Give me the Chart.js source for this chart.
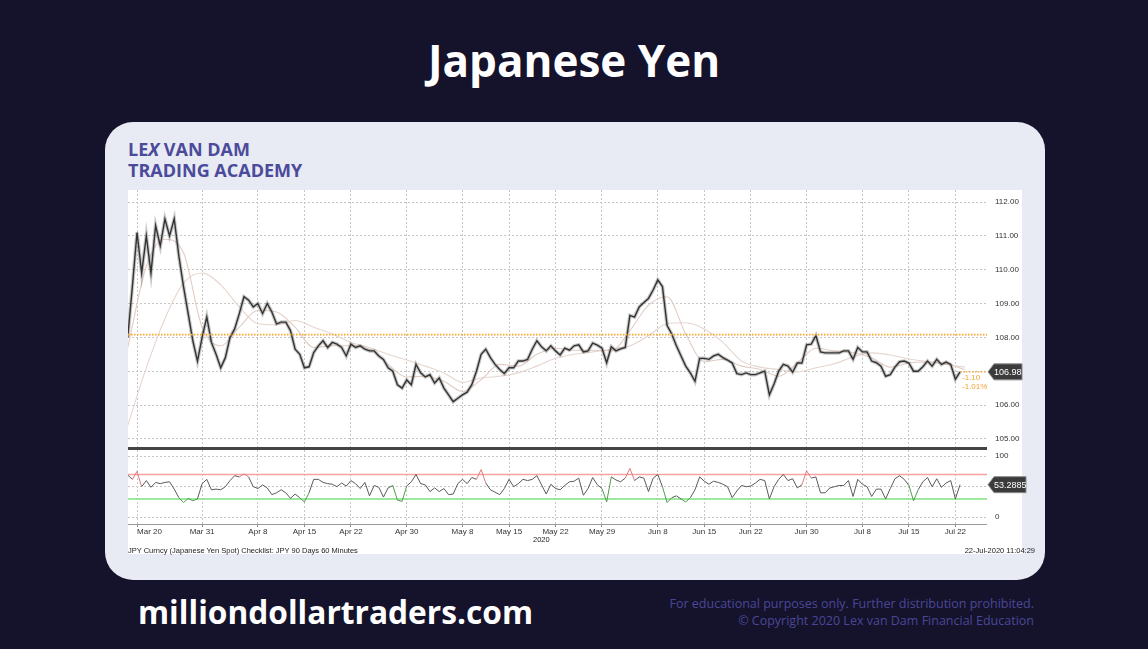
<!DOCTYPE html>
<html>
<head>
<meta charset="utf-8">
<script src="https://cdn.jsdelivr.net/npm/chart.js@4.4.1/dist/chart.umd.min.js"></script>
<style>
  html, body { margin: 0; padding: 0; }
  body { width: 1148px; height: 649px; background: #15122c; position: relative; overflow: hidden; font-family: "Open Sans", sans-serif; }
  #title { position: absolute; left: 0; top: 30px; width: 1148px; text-align: center; color: #fff; font-weight: 700; font-size: 44px; }
  #card { position: absolute; left: 105px; top: 122px; width: 940px; height: 458px; background: #e8ebf3; border-radius: 28px; }
  .logo { position: absolute; left: 128px; color: #4b4a9b; font-weight: 700; font-size: 18px; line-height: 20px; }
  #white { position: absolute; left: 128px; top: 190px; width: 894px; height: 364px; background: #fff; }
  .wrap { position: absolute; left: 128px; width: 910px; }
  #w1 { top: 190px; height: 258px; }
  #w2 { top: 450px; height: 100px; }
  #sep { position: absolute; left: 128px; top: 447px; width: 859px; height: 3px; background: #444; }
  .small { position: absolute; font-family: "Liberation Sans", Arial, sans-serif; font-size: 7.5px; color: #222; white-space: nowrap; }
  #site { position: absolute; left: 138px; top: 590px; color: #fff; font-weight: 700; font-size: 31.7px; }
  #copy { position: absolute; right: 114px; top: 595px; color: #4a4896; font-size: 12.5px; line-height: 17px; text-align: right; }
</style>
</head>
<body>
<div id="title">Japanese Yen</div>
<div id="card"></div>
<div class="logo" style="top:139px">LE<i>X</i> VAN DAM</div>
<div class="logo" style="top:160px">TRADING ACADEMY</div>
<div id="white"></div>
<div class="wrap" id="w1"><canvas id="price"></canvas></div>
<div class="wrap" id="w2"><canvas id="rsi"></canvas></div>
<div id="sep"></div>
<div class="small" style="left:533px;top:535px;">2020</div>
<div class="small" style="left:128px;top:546px;">JPY Curncy (Japanese Yen Spot) Checklist: JPY 90 Days 60 Minutes</div>
<div class="small" style="right:113px;top:546px;">22-Jul-2020 11:04:29</div>
<div id="site">milliondollartraders.com</div>
<div id="copy">For educational purposes only. Further distribution prohibited.<br>© Copyright 2020 Lex van Dam Financial Education</div>

<script>
// x values are trading days, Mar 20 = 0
const priceStart = -1;
const priceStep = 0.5;
const closes = [
  108.0,109.5,111.1,109.9,111.0,109.9,111.3,110.7,111.5,111.0,
  111.5,110.4,109.5,108.7,107.9,107.3,108.0,108.6,107.85,107.5,
  107.1,107.4,108.0,108.25,108.7,109.2,109.1,108.9,109.0,108.7,
  109.0,108.75,108.4,108.45,108.45,108.2,107.65,107.5,107.1,107.13,
  107.55,107.75,107.9,107.7,107.85,107.8,107.7,107.45,107.8,107.7,
  107.75,107.65,107.6,107.6,107.45,107.35,107.1,107.0,106.6,106.5,
  106.74,106.6,107.2,106.95,106.83,106.9,106.65,106.8,106.5,106.3,
  106.1,106.2,106.3,106.38,106.6,107.0,107.5,107.65,107.4,107.2,
  107.05,106.93,107.1,107.1,107.3,107.3,107.35,107.65,107.9,107.72,
  107.6,107.75,107.6,107.48,107.68,107.62,107.75,107.78,107.57,107.6,
  107.83,107.77,107.68,107.25,107.72,107.6,107.66,107.7,108.65,108.6,
  108.9,109.03,109.15,109.4,109.7,109.5,108.35,108.1,107.75,107.45,
  107.15,106.95,106.7,107.38,107.38,107.35,107.45,107.5,107.4,107.33,
  107.24,106.93,106.9,106.95,106.9,106.9,106.95,107.0,106.3,106.62,
  107.0,107.2,107.15,106.97,107.24,107.24,107.78,107.8,108.05,107.57,
  107.54,107.54,107.54,107.54,107.6,107.6,107.35,107.7,107.57,107.57,
  107.3,107.25,107.15,106.85,106.9,107.12,107.28,107.3,107.24,107.0,
  107.0,107.13,107.3,107.15,107.35,107.2,107.27,107.2,106.76,106.98
];
const rsiValues = [
  69,62,75,50,60,49,57,55,57,58,
  46,32,24,31,27,30,55,62,45,46,
  45,50,60,68,66,71,66,50,47,53,
  48,37,40,45,40,31,38,32,25,40,
  62,62,57,55,54,50,56,51,60,55,
  47,57,35,52,49,33,48,52,28,26,
  51,58,70,55,53,42,48,42,47,37,
  38,55,62,55,65,62,78,56,45,41,
  37,47,62,50,55,62,60,62,68,53,
  38,54,47,45,52,58,59,64,36,47,
  65,53,47,25,66,61,58,64,80,60,
  66,64,42,64,70,50,24,32,35,30,
  25,32,45,66,59,54,59,57,54,50,
  32,43,52,50,51,56,62,60,30,50,
  62,70,60,63,48,53,76,64,66,40,
  40,48,50,52,52,60,34,62,54,50,
  34,46,46,30,47,63,68,62,52,27,
  45,58,65,50,63,49,56,60,30,53.29
];
const maStep = 2;
const maFast = [
  107.7,110.1,110.9,110.5,108.3,107.75,108.3,108.8,108.75,108.3,
  107.7,107.75,107.75,107.65,107.2,106.83,106.85,106.7,106.4,106.75,
  107.2,107.15,107.5,107.68,107.62,107.62,107.6,108.2,108.95,109.2,
  108.1,107.28,107.35,107.15,107.05,106.85,107.25,107.68,107.6,107.55,
  107.4,107.12,107.24,107.27,107.22,107.05
];
const maSlow = [
  105.4,107.1,108.55,109.6,109.9,109.55,108.9,108.4,108.37,108.5,
  108.3,108.1,107.85,107.7,107.5,107.33,107.15,106.95,106.67,106.8,
  106.85,106.95,107.15,107.38,107.5,107.57,107.65,107.75,108.05,108.4,
  108.43,108.25,107.85,107.3,107.12,107.05,106.98,107.1,107.22,107.42,
  107.54,107.48,107.36,107.28,107.2,107.12
];
const tickDays = [0,7,13,18,23,29,35,40,45,50,56,61,66,72,78,83,88];
const tickLabels = ['Mar 20','Mar 31','Apr 8','Apr 15','Apr 22','Apr 30','May 8','May 15','May 22','May 29','Jun 8','Jun 15','Jun 22','Jun 30','Jul 8','Jul 15','Jul 22'];
const priceTicks = [105,106,107,108,109,110,111,112];
const rsiTicks = [0,50,100];
const prevClose = 108.08;
const lastPrice = 106.98;
const changeText = ['-1.10', '-1.01%'];
const lastRsi = 53.2885;
const rsiUpper = 70, rsiLower = 30;

const xMin = -0.97, xMax = 91.4;
const lastDay = priceStart + (closes.length - 1) * priceStep;
const series = (arr, start, step) => arr.map((v, i) => ({ x: start + i * step, y: v }));
const flat = (v, a, b) => [{ x: a, y: v }, { x: b, y: v }];

const AXIS_FONT = { family: '"Liberation Sans", Arial, sans-serif', size: 8 };
const GRID = '#c6c6c6';
const AXIS_W = 51;   // right axis width, the tags live inside it

const lastTag = {
  id: 'lastTag',
  afterDraw(chart, args, o) {
    if (o.value == null) return;
    const { ctx, chartArea } = chart;
    const y = chart.scales.y.getPixelForValue(o.value);
    const x = chartArea.right + 1;
    ctx.save();
    ctx.beginPath();
    ctx.moveTo(x, y);
    ctx.lineTo(x + 6, y - 8);
    ctx.lineTo(x + o.w, y - 8);
    ctx.lineTo(x + o.w, y + 8);
    ctx.lineTo(x + 6, y + 8);
    ctx.closePath();
    ctx.fillStyle = '#3b3b3b';
    ctx.fill();
    ctx.strokeStyle = '#8c8c8c';
    ctx.lineWidth = 1;
    ctx.stroke();
    ctx.fillStyle = '#fff';
    ctx.font = '9px "Liberation Sans", Arial, sans-serif';
    ctx.textBaseline = 'middle';
    ctx.textAlign = 'left';
    ctx.fillText(o.text, x + 6, y + 0.5);
    if (o.notes) {
      const xs = chart.scales.x.getPixelForValue(o.noteAt);
      ctx.fillStyle = '#f3a233';
      ctx.font = '8px "Liberation Sans", Arial, sans-serif';
      o.notes.forEach((t, i) => ctx.fillText(t, xs + 2, y + 6 + i * 9));
    }
    ctx.restore();
  }
};

const axisLine = {
  id: 'axisLine',
  afterDatasetsDraw(chart) {
    const { ctx, chartArea } = chart;
    ctx.save();
    ctx.strokeStyle = '#9a9a9a';
    ctx.lineWidth = 1;
    ctx.beginPath();
    ctx.moveTo(chartArea.left, chartArea.bottom + 0.5);
    ctx.lineTo(chartArea.right, chartArea.bottom + 0.5);
    ctx.stroke();
    ctx.restore();
  }
};

function fitRight(s) {
  s.width = AXIS_W;
  s.paddingTop = 0;
  s.paddingBottom = 0;
}

// price panel
new Chart(document.getElementById('price'), {
  type: 'line',
  data: {
    datasets: [
      { data: flat(prevClose, xMin, xMax), borderColor: '#f5a52c', borderWidth: 1.6, borderDash: [1.5, 1.5] },
      { data: flat(lastPrice, lastDay, xMax), borderColor: '#f5a52c', borderWidth: 1.2, borderDash: [1.5, 1.5] },
      { data: series(closes, priceStart, priceStep), borderColor: '#333333', borderWidth: 1.4 },
      { data: series(closes, priceStart, priceStep), borderColor: 'rgba(110,110,110,0.38)', borderWidth: 3.6 },
      { data: series(maFast, priceStart, maStep), borderColor: '#e2cdc4', borderWidth: 1.1, cubicInterpolationMode: 'monotone' },
      { data: series(maSlow, priceStart, maStep), borderColor: '#e6d6cf', borderWidth: 1.1, cubicInterpolationMode: 'monotone' }
    ]
  },
  options: {
    responsive: true,
    maintainAspectRatio: false,
    animation: false,
    layout: { padding: 0, autoPadding: false },
    elements: { point: { radius: 0 }, line: { tension: 0 } },
    plugins: {
      legend: { display: false },
      tooltip: { enabled: false },
      lastTag: { value: lastPrice, text: lastPrice.toFixed(2), w: 34, notes: changeText, noteAt: lastDay }
    },
    scales: {
      x: {
        type: 'linear', min: xMin, max: xMax,
        afterBuildTicks: s => { s.ticks = tickDays.map(v => ({ value: v })); },
        afterFit: s => { s.height = 0; },
        ticks: { display: false },
        grid: { color: GRID, drawTicks: false },
        border: { display: false, dash: [2, 2] }
      },
      y: {
        position: 'right', min: 104.73, max: 112.355,
        afterBuildTicks: s => { s.ticks = priceTicks.map(v => ({ value: v })); },
        afterFit: fitRight,
        ticks: { font: AXIS_FONT, color: '#333', padding: 8, callback: v => v.toFixed(2) },
        grid: { color: GRID, drawTicks: false },
        border: { display: false, dash: [2, 2] }
      }
    }
  },
  plugins: [lastTag]
});

// RSI panel with the date axis
new Chart(document.getElementById('rsi'), {
  type: 'line',
  data: {
    datasets: [
      {
        data: series(rsiValues, priceStart, priceStep), borderColor: '#5a5a5a', borderWidth: 1,
        segment: {
          borderColor: c => Math.max(c.p0.parsed.y, c.p1.parsed.y) > rsiUpper ? '#e07a7a'
            : Math.min(c.p0.parsed.y, c.p1.parsed.y) < rsiLower ? '#4f9c4f' : undefined
        }
      },
      { data: flat(rsiUpper, xMin, xMax), borderColor: '#f6a2a2', borderWidth: 1.5 },
      { data: flat(rsiLower, xMin, xMax), borderColor: '#7fe07f', borderWidth: 1.5 }
    ]
  },
  options: {
    responsive: true,
    maintainAspectRatio: false,
    animation: false,
    layout: { padding: 0, autoPadding: false },
    elements: { point: { radius: 0 }, line: { tension: 0 } },
    plugins: {
      legend: { display: false },
      tooltip: { enabled: false },
      lastTag: { value: lastRsi, text: lastRsi.toFixed(4), w: 38 }
    },
    scales: {
      x: {
        type: 'linear', min: xMin, max: xMax,
        afterBuildTicks: s => { s.ticks = tickDays.map(v => ({ value: v })).concat([{ value: xMax }]); },
        afterFit: s => { s.height = 26; },
        ticks: {
          font: AXIS_FONT, color: '#333', padding: 0, maxRotation: 0, autoSkip: false, align: 'inner',
          callback: v => { const i = tickDays.indexOf(v); return i >= 0 ? tickLabels[i] : ''; }
        },
        grid: {
          color: c => (c.tick && c.tick.value === xMax) ? 'rgba(0,0,0,0)' : GRID,
          tickLength: 3, tickColor: c => (c.tick && c.tick.value === xMax) ? 'rgba(0,0,0,0)' : '#8a8a8a',
          tickBorderDash: []
        },
        border: { display: false, dash: [2, 2] }
      },
      y: {
        position: 'right', min: -11, max: 110,
        afterBuildTicks: s => { s.ticks = rsiTicks.map(v => ({ value: v })); },
        afterFit: fitRight,
        ticks: { font: AXIS_FONT, color: '#333', padding: 8 },
        grid: { color: GRID, drawTicks: false },
        border: { display: false, dash: [2, 2] }
      }
    }
  },
  plugins: [lastTag, axisLine]
});
</script>
</body>
</html>
